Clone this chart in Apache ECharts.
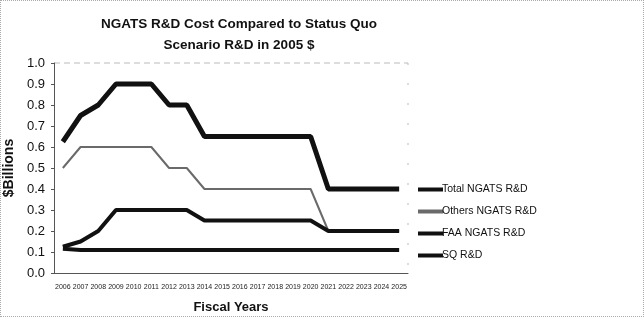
<!DOCTYPE html>
<html>
<head>
<meta charset="utf-8">
<script src="https://cdn.jsdelivr.net/npm/echarts@6/dist/echarts.min.js"></script>
<style>
  html, body { margin: 0; padding: 0; background: #fff; }
  #chart { width: 642px; height: 315px; border: 1px dotted #aaa; }
</style>
</head>
<body>
<div id="chart"></div>
<script>
var years = ['2006','2007','2008','2009','2010','2011','2012','2013','2014','2015',
             '2016','2017','2018','2019','2020','2021','2022','2023','2024','2025'];
var totalNgats = [0.625,0.75,0.8,0.9,0.9,0.9,0.8,0.8,0.65,0.65,0.65,0.65,0.65,0.65,0.65,0.4,0.4,0.4,0.4,0.4];
var othersNgats = [0.5,0.6,0.6,0.6,0.6,0.6,0.5,0.5,0.4,0.4,0.4,0.4,0.4,0.4,0.4,0.2,0.2,0.2,0.2,0.2];
var faaNgats = [0.125,0.15,0.2,0.3,0.3,0.3,0.3,0.3,0.25,0.25,0.25,0.25,0.25,0.25,0.25,0.2,0.2,0.2,0.2,0.2];
var sqRd = [0.115,0.11,0.11,0.11,0.11,0.11,0.11,0.11,0.11,0.11,0.11,0.11,0.11,0.11,0.11,0.11,0.11,0.11,0.11,0.11];

var myChart = echarts.init(document.getElementById('chart'));
var font = 'Liberation Sans, Arial, sans-serif';

function line(name, data, color, width) {
  return {
    name: name,
    type: 'line',
    data: data,
    symbol: 'none',
    lineStyle: { color: color, width: width },
    itemStyle: { color: color }
  };
}

var option = {
  animation: false,
  title: {
    text: 'NGATS R&D Cost Compared to Status Quo\nScenario R&D in 2005 $',
    left: 233,
    textAlign: 'center',
    top: 8,
    textStyle: { fontFamily: font, fontSize: 13.5, fontWeight: 'bold', color: '#111', lineHeight: 21 }
  },
  legend: {
    orient: 'vertical',
    left: 412,
    top: 178,
    itemGap: 11,
    itemWidth: 25,
    itemHeight: 4,
    icon: 'rect',
    textStyle: { fontFamily: font, fontSize: 10.5, color: '#111', padding: [0, 0, 0, -6] },
    data: ['Total NGATS R&D', 'Others NGATS R&D', 'FAA NGATS R&D', 'SQ R&D']
  },
  grid: { left: 53, right: 235, top: 62, bottom: 43, outerBoundsMode: 'none' },
  xAxis: {
    type: 'category',
    data: years,
    boundaryGap: true,
    name: 'Fiscal Years',
    nameLocation: 'middle',
    nameGap: 28,
    nameTextStyle: { fontFamily: font, fontSize: 13, fontWeight: 'bold', color: '#111' },
    axisLine: { lineStyle: { color: '#555' } },
    axisTick: { show: false },
    axisLabel: { fontFamily: font, fontSize: 7, color: '#222', interval: 0, margin: 11 }
  },
  yAxis: {
    type: 'value',
    min: 0,
    max: 1,
    interval: 0.1,
    name: '$Billions',
    nameLocation: 'middle',
    nameGap: 33,
    nameTextStyle: { fontFamily: font, fontSize: 14, fontWeight: 'bold', color: '#111' },
    axisLine: { show: true, lineStyle: { color: '#555' } },
    axisTick: { show: true, length: 3, lineStyle: { color: '#555' } },
    axisLabel: { fontFamily: font, fontSize: 13, color: '#111', margin: 9,
      formatter: function (v) { return v.toFixed(1); } },
    splitLine: { show: false }
  },
  series: [
    line('Total NGATS R&D', totalNgats, '#111', 5),
    line('Others NGATS R&D', othersNgats, '#6a6a6a', 2),
    line('FAA NGATS R&D', faaNgats, '#111', 4),
    line('SQ R&D', sqRd, '#111', 4)
  ],
  graphic: [
    { type: 'line', shape: { x1: 53, y1: 62, x2: 407, y2: 62 }, style: { stroke: '#bbb', lineWidth: 1, lineDash: [6, 4] } },
    { type: 'line', shape: { x1: 407, y1: 62, x2: 407, y2: 272 }, style: { stroke: '#bbb', lineWidth: 1, lineDash: [2, 18] } }
  ]
};
myChart.setOption(option);
</script>
</body>
</html>
